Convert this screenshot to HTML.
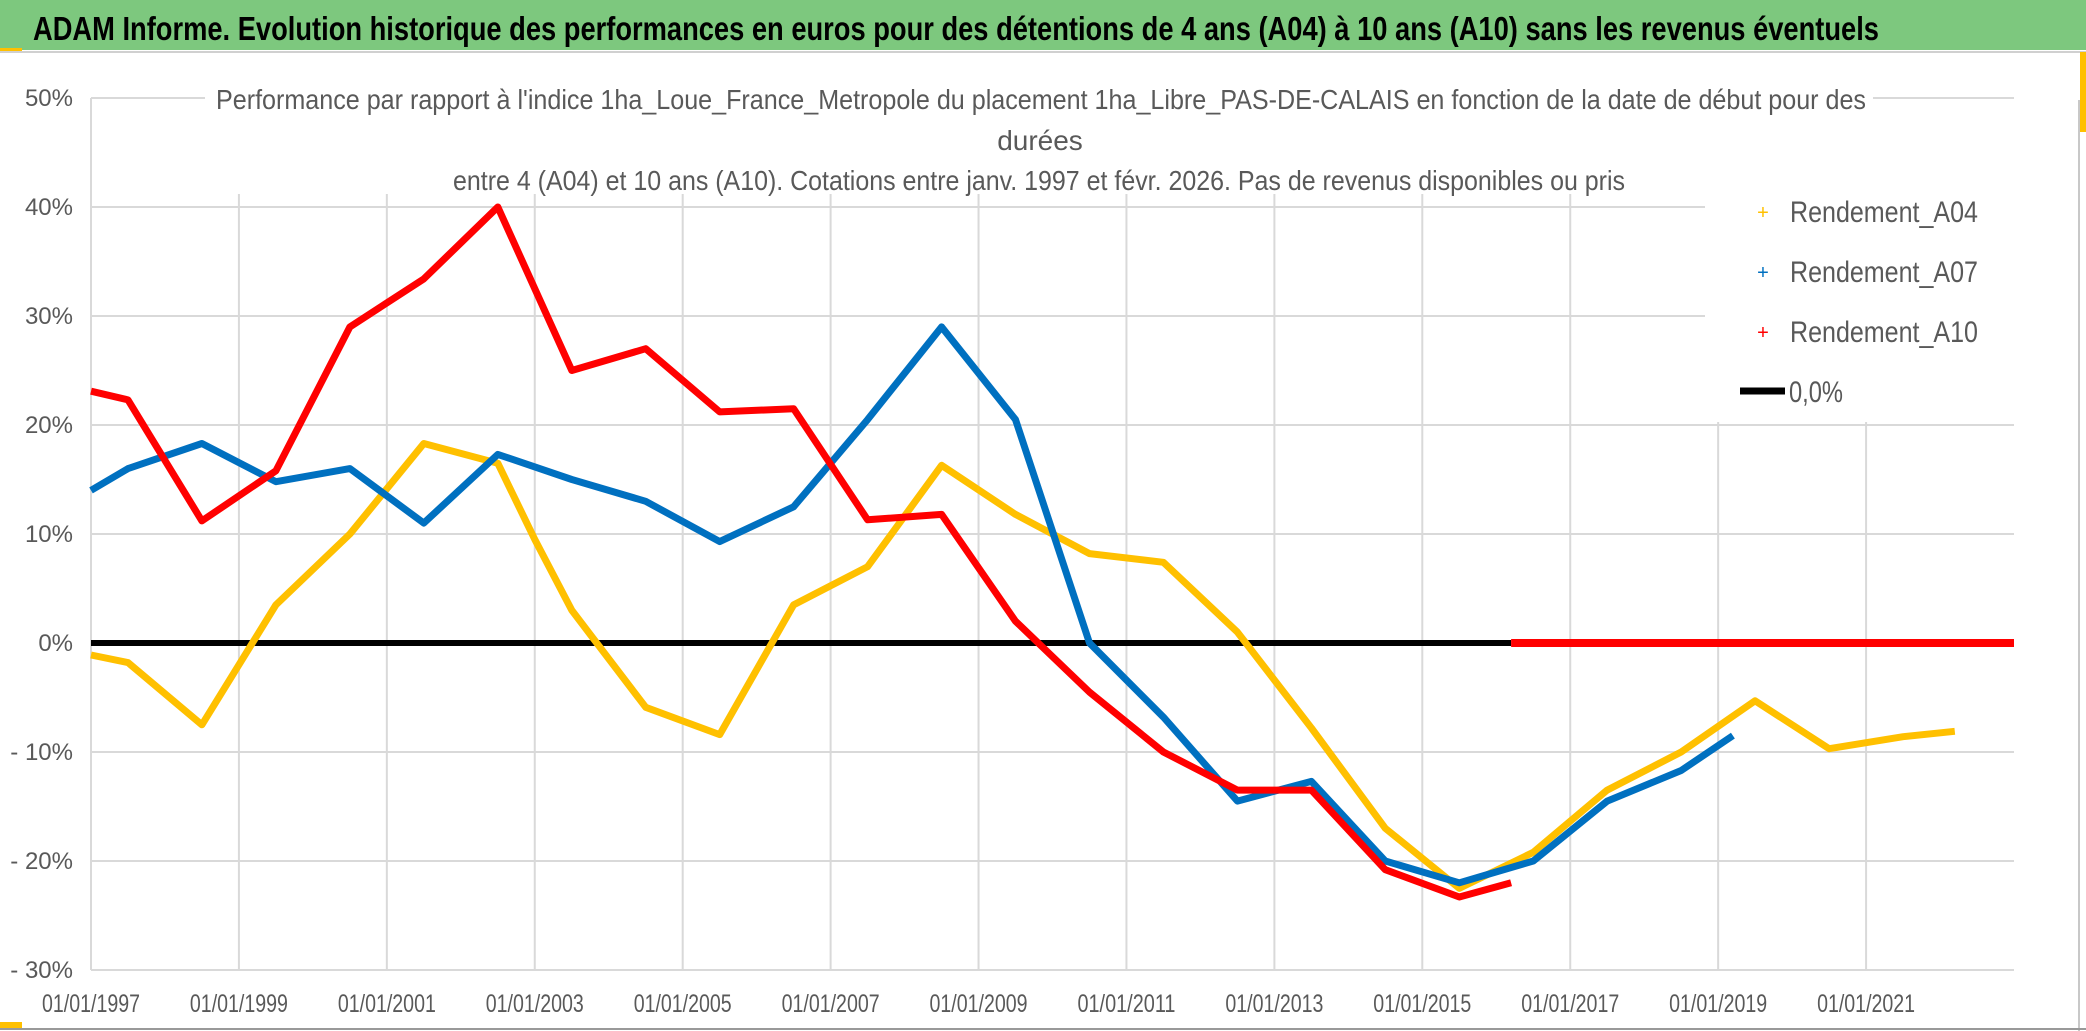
<!DOCTYPE html>
<html><head><meta charset="utf-8"><style>
body{margin:0;background:#fff}
svg{display:block}
text{font-family:"Liberation Sans Narrow","Liberation Sans",sans-serif}
</style></head><body>
<svg id="chart" width="2086" height="1031" viewBox="0 0 2086 1031" xmlns="http://www.w3.org/2000/svg">
<rect x="0" y="0" width="2086" height="1031" fill="#fff"/>
<rect x="0" y="0" width="2086" height="50" fill="#7dc87e"/>
<rect x="0" y="48" width="22" height="4" fill="#ffc000"/>
<line x1="0" y1="52" x2="2086" y2="52" stroke="#d0d0d0" stroke-width="2"/>
<rect x="2080" y="52" width="6" height="80" fill="#ffc000"/>
<line x1="2079" y1="100" x2="2079" y2="1031" stroke="#c8c8c8" stroke-width="2"/>
<rect x="0" y="1022" width="22" height="6" fill="#ffc000"/>
<line x1="0" y1="1029" x2="2086" y2="1029" stroke="#999" stroke-width="2"/>
<text x="33" y="40" font-size="33" font-weight="bold" fill="#000" textLength="1846" lengthAdjust="spacingAndGlyphs">ADAM Informe. Evolution historique des performances en euros pour des détentions de 4 ans (A04) à 10 ans (A10) sans les revenus éventuels</text>
<g id="grid"></g>
<g id="axes"></g>
<rect x="205" y="78" width="1668" height="116" fill="#fff"/>
<text x="216" y="109" font-size="28" fill="#595959" textLength="1650" lengthAdjust="spacingAndGlyphs">Performance par rapport à l'indice 1ha_Loue_France_Metropole  du placement 1ha_Libre_PAS-DE-CALAIS en fonction de la date de début pour des</text>
<text x="1040" y="150" font-size="28" fill="#595959" text-anchor="middle">durées</text>
<text x="453" y="190" font-size="28" fill="#595959" textLength="1172" lengthAdjust="spacingAndGlyphs">entre 4 (A04) et 10 ans (A10). Cotations entre janv. 1997 et févr. 2026. Pas de revenus disponibles ou pris</text>
<g id="series"></g>
<g>
<rect x="1705" y="186" width="310" height="236" fill="#fff"/>
<g><text x="1763" y="219" font-size="20" fill="#ffc000" text-anchor="middle">+</text><text x="1790" y="222" font-size="30" fill="#595959" textLength="188" lengthAdjust="spacingAndGlyphs">Rendement_A04</text></g>
<g><text x="1763" y="279" font-size="20" fill="#0070c0" text-anchor="middle">+</text><text x="1790" y="282" font-size="30" fill="#595959" textLength="188" lengthAdjust="spacingAndGlyphs">Rendement_A07</text></g>
<g><text x="1763" y="339" font-size="20" fill="#ff0000" text-anchor="middle">+</text><text x="1790" y="342" font-size="30" fill="#595959" textLength="188" lengthAdjust="spacingAndGlyphs">Rendement_A10</text></g>
<g><line x1="1740" y1="391" x2="1785" y2="391" stroke="#000" stroke-width="7"/><text x="1789" y="402" font-size="30" fill="#595959" textLength="54" lengthAdjust="spacingAndGlyphs">0,0%</text></g>
</g>
</svg>
<script>
const yearsA04 = [1997.0,1997.5,1998.5,1999.5,2000.5,2001.5,2002.5,2003.0,2003.5,2004.5,2005.5,2006.5,2007.5,2008.5,2009.5,2010.5,2011.5,2012.5,2013.5,2014.5,2015.5,2016.5,2017.5,2018.5,2019.5,2020.5,2021.5,2022.2];
const valuesA04 = [-1.1,-1.8,-7.5,3.5,10,18.3,16.5,9.5,3,-5.9,-8.4,3.5,7,16.3,11.8,8.2,7.4,1,-7.8,-17,-22.5,-19.2,-13.5,-10,-5.3,-9.7,-8.6,-8.1];
const yearsA07 = [1997.0,1997.5,1998.5,1999.5,2000.5,2001.5,2002.5,2003.5,2004.5,2005.5,2006.5,2007.5,2008.5,2009.5,2010.5,2011.5,2012.5,2013.5,2014.5,2015.5,2016.5,2017.5,2018.5,2019.2];
const valuesA07 = [14,16,18.3,14.8,16,11,17.3,15,13,9.3,12.5,20.5,29,20.5,0,-6.8,-14.5,-12.7,-20,-22,-20,-14.5,-11.7,-8.5];
const yearsA10 = [1997.0,1997.5,1998.5,1999.5,2000.5,2001.5,2002.5,2003.5,2004.5,2005.5,2006.5,2007.5,2008.5,2009.5,2010.5,2011.5,2012.5,2013.5,2014.5,2015.5,2016.2];
const valuesA10 = [23.1,22.3,11.2,15.8,29,33.4,40,25,27,21.2,21.5,11.3,11.8,2,-4.5,-10,-13.5,-13.5,-20.8,-23.3,-22];
const zeroBlackYears = [1997.0,2016.2];
const zeroRedYears = [2016.2,2023.0];
const yTicks = [50,40,30,20,10,0,-10,-20,-30];
const yTickLabels = ["50%","40%","30%","20%","10%","0%","- 10%","- 20%","- 30%"];
const xTicks = [1997,1999,2001,2003,2005,2007,2009,2011,2013,2015,2017,2019,2021];
const xTickLabels = ["01/01/1997","01/01/1999","01/01/2001","01/01/2003","01/01/2005","01/01/2007","01/01/2009","01/01/2011","01/01/2013","01/01/2015","01/01/2017","01/01/2019","01/01/2021"];

const NS="http://www.w3.org/2000/svg";
const X0=91,X1=2014,XMIN=1997,XMAX=2023;
const Y0=98,Y1=970,YMAX=50,YMIN=-30;
function xs(v){return X0+(v-XMIN)/(XMAX-XMIN)*(X1-X0);}
function ys(v){return Y0+(YMAX-v)/(YMAX-YMIN)*(Y1-Y0);}
function mk(tag,attrs,parent){const e=document.createElementNS(NS,tag);for(const k in attrs)e.setAttribute(k,attrs[k]);parent.appendChild(e);return e;}
const grid=document.getElementById('grid'),axes=document.getElementById('axes'),series=document.getElementById('series');
yTicks.forEach((t,i)=>{
  const l=mk('line',{x1:X0,x2:X1,y1:ys(t),y2:ys(t),stroke:'#d9d9d9','stroke-width':2},grid);
  
  
  const tx=mk('text',{x:73,y:ys(t)+8,'font-size':24,fill:'#595959','text-anchor':'end'},axes);
  tx.textContent=yTickLabels[i];
  
  
});
xTicks.forEach((t,i)=>{
  const l=mk('line',{x1:xs(t),x2:xs(t),y1:Y0,y2:Y1,stroke:'#d9d9d9','stroke-width':2},grid);
  
  
  const tx=mk('text',{x:xs(t),y:1012,'font-size':25,fill:'#595959','text-anchor':'middle',textLength:98,lengthAdjust:'spacingAndGlyphs'},axes);
  tx.textContent=xTickLabels[i];
  
  
});
function line(xa,ya,color,w,name){
  const d=xa.map((x,i)=>(i?'L':'M')+xs(x).toFixed(1)+','+ys(ya[i]).toFixed(1)).join(' ');
  const p=mk('path',{d:d,fill:'none',stroke:color,'stroke-width':w,'stroke-linejoin':'round'},series);
  
  
}
line(zeroBlackYears,[0,0],'#000',6,'zero-line');
line(yearsA04,valuesA04,'#ffc000',7,'series-a04');
line(yearsA07,valuesA07,'#0070c0',7,'series-a07');
line(yearsA10,valuesA10,'#ff0000',7,'series-a10');
line(zeroRedYears,[0,0],'#ff0000',8,'series-a10-zero');
</script>
</body></html>
